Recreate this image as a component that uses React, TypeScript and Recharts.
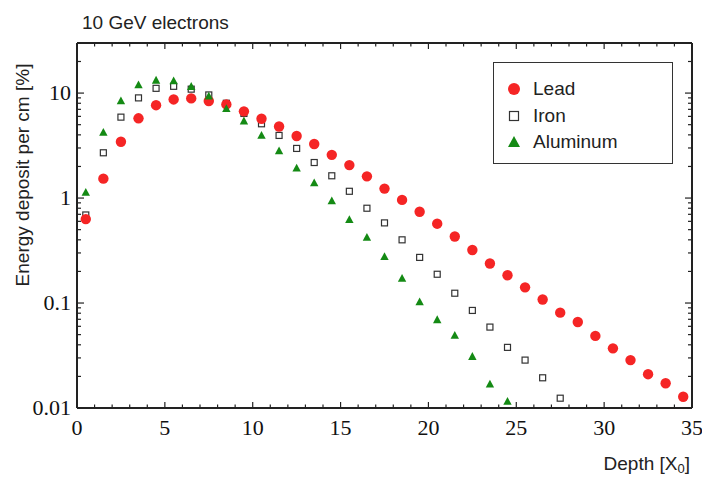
import React from "react";
import { ScatterChart, Scatter, XAxis, YAxis, Legend } from "recharts";

const depthLead = [0.5, 1.5, 2.5, 3.5, 4.5, 5.5, 6.5, 7.5, 8.5, 9.5, 10.5, 11.5, 12.5, 13.5, 14.5, 15.5, 16.5, 17.5, 18.5, 19.5, 20.5, 21.5, 22.5, 23.5, 24.5, 25.5, 26.5, 27.5, 28.5, 29.5, 30.5, 31.5, 32.5, 33.5, 34.5];
const lead = [0.63, 1.53, 3.44, 5.75, 7.67, 8.7, 8.9, 8.4, 7.8, 6.7, 5.7, 4.8, 3.9, 3.27, 2.58, 2.06, 1.61, 1.23, 0.96, 0.74, 0.57, 0.43, 0.32, 0.238, 0.184, 0.141, 0.108, 0.081, 0.066, 0.0486, 0.037, 0.0286, 0.021, 0.0172, 0.0128];

const depthIron = [0.5, 1.5, 2.5, 3.5, 4.5, 5.5, 6.5, 7.5, 8.5, 9.5, 10.5, 11.5, 12.5, 13.5, 14.5, 15.5, 16.5, 17.5, 18.5, 19.5, 20.5, 21.5, 22.5, 23.5, 24.5, 25.5, 26.5, 27.5];
const iron = [0.69, 2.7, 5.9, 9.0, 11.1, 11.6, 10.9, 9.6, 8.0, 6.4, 5.1, 3.95, 2.97, 2.18, 1.63, 1.16, 0.8, 0.58, 0.4, 0.272, 0.188, 0.124, 0.085, 0.059, 0.0378, 0.0286, 0.0194, 0.0124];

const depthAlu = [0.5, 1.5, 2.5, 3.5, 4.5, 5.5, 6.5, 7.5, 8.5, 9.5, 10.5, 11.5, 12.5, 13.5, 14.5, 15.5, 16.5, 17.5, 18.5, 19.5, 20.5, 21.5, 22.5, 23.5, 24.5];
const aluminum = [1.13, 4.2, 8.4, 11.9, 13.2, 13.0, 11.5, 9.3, 7.07, 5.4, 3.93, 2.8, 1.92, 1.39, 0.935, 0.62, 0.42, 0.275, 0.171, 0.102, 0.069, 0.049, 0.0308, 0.0168, 0.0115];

const xTicks = [0, 1, 2, 3, 4, 5, 6, 7, 8, 9, 10, 11, 12, 13, 14, 15, 16, 17, 18, 19, 20, 21, 22, 23, 24, 25, 26, 27, 28, 29, 30, 31, 32, 33, 34, 35];
const xMajor = [0, 5, 10, 15, 20, 25, 30, 35];
const yTicks = [0.01, 0.02, 0.03, 0.04, 0.05, 0.06, 0.07, 0.08, 0.09, 0.1, 0.2, 0.3, 0.4, 0.5, 0.6, 0.7, 0.8, 0.9, 1, 2, 3, 4, 5, 6, 7, 8, 9, 10, 20, 30];
const yMajor = [0.01, 0.1, 1, 10];
const yLabels = ["0.01", "0.1", "1", "10"];

const seriesNames = ["Lead", "Iron", "Aluminum"];

const RED = "#f52525";
const GREEN = "#148a14";
const DARK = "#222";

const SERIF = "Liberation Serif";
const SANS = "Liberation Sans";

const toPoints = (xs: number[], ys: number[]) => xs.map((x, i) => ({ x, y: ys[i] }));

const leadData = toPoints(depthLead, lead);
const ironData = toPoints(depthIron, iron);
const aluData = toPoints(depthAlu, aluminum);

const Circle = (p: any) => <circle cx={p.cx} cy={p.cy} r={5.2} fill={RED} />;
const Square = (p: any) => (
  <rect x={p.cx - 3} y={p.cy - 3} width={6} height={6} fill="#fff" stroke="#333" strokeWidth={1.2} />
);
const Tri = (p: any) => (
  <polygon
    points={`${p.cx},${p.cy - 4.6} ${p.cx + 4.2},${p.cy + 3.2} ${p.cx - 4.2},${p.cy + 3.2}`}
    fill={GREEN}
  />
);
const Nothing = () => <g />;

const isMajorY = (v: number) => yMajor.some((m) => Math.abs(m - v) < 1e-9);

const XTick = (p: any) => {
  const v = p.payload.value;
  const major = xMajor.includes(v);
  return (
    <g>
      <line x1={p.x} x2={p.x} y1={p.y} y2={p.y - (major ? 6 : 3.5)} stroke={DARK} strokeWidth={1.2} />
      {major && (
        <text x={p.x} y={p.y + 27} textAnchor="middle" fontFamily={SERIF} fontSize={22} fill="#111">
          {String(v)}
        </text>
      )}
    </g>
  );
};

const XTopTick = (p: any) => {
  const v = p.payload.value;
  const major = xMajor.includes(v);
  return <line x1={p.x} x2={p.x} y1={p.y} y2={p.y + (major ? 6 : 3.5)} stroke={DARK} strokeWidth={1.2} />;
};

const YTick = (p: any) => {
  const v = p.payload.value;
  const major = isMajorY(v);
  const idx = yMajor.findIndex((m) => Math.abs(m - v) < 1e-9);
  return (
    <g>
      <line x1={p.x} x2={p.x + (major ? 7 : 4)} y1={p.y} y2={p.y} stroke={DARK} strokeWidth={1.2} />
      {major && (
        <text x={p.x - 6} y={p.y + 7} textAnchor="end" fontFamily={SERIF} fontSize={22} fill="#111">
          {yLabels[idx]}
        </text>
      )}
    </g>
  );
};

const YRightTick = (p: any) => {
  const v = p.payload.value;
  const major = isMajorY(v);
  return <line x1={p.x} x2={p.x - (major ? 7 : 4)} y1={p.y} y2={p.y} stroke={DARK} strokeWidth={1.2} />;
};

const legendMarker = (name: string) => {
  if (name === "Lead") return <circle cx={8} cy={8} r={6} fill={RED} />;
  if (name === "Iron") return <rect x={3.5} y={3.5} width={9} height={9} fill="#fff" stroke="#333" strokeWidth={1.2} />;
  return <polygon points="8,2 14,13 2,13" fill={GREEN} />;
};

const LegendBox = () => (
  <div
    style={{
      width: 180,
      height: 102,
      boxSizing: "border-box",
      border: "1.5px solid #333",
      background: "#fff",
      position: "relative",
      fontFamily: SANS,
      fontSize: 19,
      color: "#222",
    }}
  >
    {seriesNames.map((n, i) => (
      <div key={n} style={{ position: "absolute", left: 0, top: 26 + i * 26.5 - 13, height: 26, width: 178 }}>
        <svg width={16} height={16} style={{ position: "absolute", left: 12, top: 5 }}>
          {legendMarker(n)}
        </svg>
        <span style={{ position: "absolute", left: 39, top: 0, lineHeight: "26px", whiteSpace: "nowrap" }}>{n}</span>
      </div>
    ))}
  </div>
);

const axisLineStyle = { stroke: DARK, strokeWidth: 2 };

export default function App() {
  return (
    <div style={{ position: "absolute", left: 0, top: 0, width: 702, height: 477, background: "#fff" }}>
      <ScatterChart width={702} height={477} margin={{ top: 42, right: 9, bottom: 0, left: 0 }}>
        <XAxis
          xAxisId="b"
          dataKey="x"
          type="number"
          orientation="bottom"
          domain={[0, 35]}
          ticks={xTicks}
          interval={0}
          tickSize={0}
          tickMargin={0}
          height={69}
          axisLine={axisLineStyle}
          tickLine={false}
          tick={(p: any) => <XTick {...p} />}
        />
        <XAxis
          xAxisId="t"
          dataKey="x"
          type="number"
          orientation="top"
          domain={[0, 35]}
          ticks={xTicks}
          interval={0}
          tickSize={0}
          tickMargin={0}
          height={1}
          axisLine={axisLineStyle}
          tickLine={false}
          tick={(p: any) => <XTopTick {...p} />}
        />
        <YAxis
          yAxisId="l"
          dataKey="y"
          type="number"
          scale="log"
          orientation="left"
          domain={[0.01, 30]}
          allowDataOverflow
          ticks={yTicks}
          interval={0}
          tickSize={0}
          tickMargin={0}
          width={77}
          axisLine={axisLineStyle}
          tickLine={false}
          tick={(p: any) => <YTick {...p} />}
        />
        <YAxis
          yAxisId="r"
          dataKey="y"
          type="number"
          scale="log"
          orientation="right"
          domain={[0.01, 30]}
          allowDataOverflow
          ticks={yTicks}
          interval={0}
          tickSize={0}
          tickMargin={0}
          width={1}
          axisLine={axisLineStyle}
          tickLine={false}
          tick={(p: any) => <YRightTick {...p} />}
        />
        <Legend
          layout="vertical"
          align="center"
          verticalAlign="middle"
          content={() => <LegendBox />}
          wrapperStyle={{ position: "absolute", left: 493, top: 62, width: 180, height: 102 }}
        />
        <Scatter name="frame" data={leadData} xAxisId="t" yAxisId="r" shape={Nothing} legendType="none" isAnimationActive={false} />
        <Scatter name="Iron" data={ironData} xAxisId="b" yAxisId="l" shape={Square} isAnimationActive={false} />
        <Scatter name="Lead" data={leadData} xAxisId="b" yAxisId="l" shape={Circle} isAnimationActive={false} />
        <Scatter name="Aluminum" data={aluData} xAxisId="b" yAxisId="l" shape={Tri} isAnimationActive={false} />
      </ScatterChart>
      <svg width={702} height={477} style={{ position: "absolute", left: 0, top: 0, pointerEvents: "none" }}>
        <text x={82} y={29} fontFamily={SANS} fontSize={19} fill="#222">
          10 GeV electrons
        </text>
        <text
          x={29}
          y={175}
          transform="rotate(-90 29 175)"
          textAnchor="middle"
          fontFamily={SANS}
          fontSize={19}
          fill="#222"
        >
          Energy deposit per cm [%]
        </text>
        <text x={690} y={470} textAnchor="end" fontFamily={SANS} fontSize={19} fill="#222">
          Depth [X<tspan fontSize={13} dy={3}>0</tspan>
          <tspan dy={-3}>]</tspan>
        </text>
      </svg>
    </div>
  );
}
